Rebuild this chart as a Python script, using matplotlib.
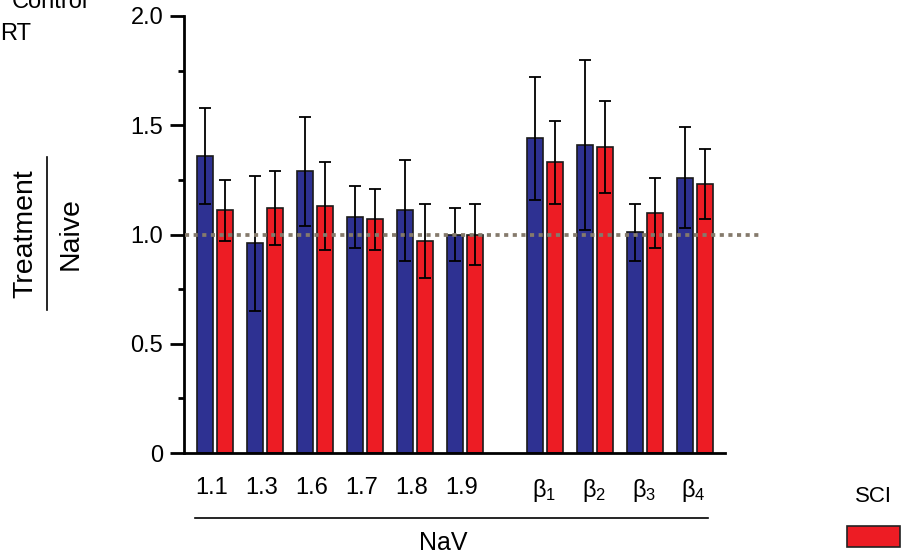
import numpy as np
import matplotlib.pyplot as plt
from matplotlib.ticker import MultipleLocator, FixedLocator

plt.rcParams['font.family'] = ['Liberation Sans', 'DejaVu Sans']

# данные
labels = ['1.1', '1.3', '1.6', '1.7', '1.8', '1.9',
          r'$\mathregular{\beta_1}$', r'$\mathregular{\beta_2}$',
          r'$\mathregular{\beta_3}$', r'$\mathregular{\beta_4}$']
control = [1.36, 0.96, 1.29, 1.08, 1.11, 1.00, 1.44, 1.41, 1.01, 1.26]
control_err = [0.22, 0.31, 0.25, 0.14, 0.23, 0.12, 0.28, 0.39, 0.13, 0.23]
sci = [1.11, 1.12, 1.13, 1.07, 0.97, 1.00, 1.33, 1.40, 1.10, 1.23]
sci_err = [0.14, 0.17, 0.20, 0.14, 0.17, 0.14, 0.19, 0.21, 0.16, 0.16]

blue = '#2E3192'
red = '#ED1C24'

# позиции групп: шесть NaV, затем разрыв и четыре бета-субъединицы
x = np.array([0, 1, 2, 3, 4, 5, 6.6, 7.6, 8.6, 9.6])
w = 0.32
off = 0.2

fig = plt.figure(figsize=(9.11, 5.57), dpi=100)
ax = fig.add_axes([184 / 911, 104 / 557, 541 / 911, 437 / 557])

bar_kw = dict(width=w, edgecolor='#1a1a1a', linewidth=1.2, zorder=2)
err_kw = dict(ecolor='black', elinewidth=1.3, capsize=4.5, capthick=1.3)
ax.bar(x - off, control, color=blue, yerr=control_err, error_kw=err_kw, **bar_kw)
ax.bar(x + off, sci, color=red, yerr=sci_err, error_kw=err_kw, **bar_kw)

# пунктирная линия на уровне 1.0
ax.plot([-0.6, 10.9], [1.0, 1.0], color='#857a6c', lw=2.7,
        dashes=(1.1, 1.2), clip_on=False, zorder=3)

ax.set_xlim(-0.614, 10.206)
ax.set_ylim(0, 2.0)

for s in ['top', 'right']:
    ax.spines[s].set_visible(False)
ax.spines['left'].set_linewidth(2)
ax.spines['bottom'].set_linewidth(2)

ax.yaxis.set_major_locator(FixedLocator([0, 0.5, 1.0, 1.5, 2.0]))
ax.set_yticklabels(['0', '0.5', '1.0', '1.5', '2.0'])
ax.yaxis.set_minor_locator(MultipleLocator(0.25))
ax.tick_params(axis='y', which='major', direction='out', length=10, width=2,
               labelsize=17, pad=5)
ax.tick_params(axis='y', which='minor', direction='out', length=4.5, width=2)

shift = np.array([0.06] * 6 + [0.02] * 4)
ax.set_xticks(x - shift)
ax.set_xticklabels(labels)
ax.tick_params(axis='x', length=0, labelsize=17, pad=17)

# подпись оси x с линией
fig.add_artist(plt.Line2D([195 / 911, 708 / 911], [1 - 518 / 557, 1 - 518 / 557],
                          color='black', lw=1.2))
fig.text(443 / 911, 1 - 543 / 557, 'NaV', ha='center', va='center', fontsize=18)

# подпись оси y в виде дроби
fig.text(25 / 911, 1 - 234 / 557, 'Treatment', rotation=90, ha='center',
         va='center', fontsize=20.5)
fig.text(71 / 911, 1 - 234 / 557, 'Naive', rotation=90, ha='center',
         va='center', fontsize=20.5)
fig.add_artist(plt.Line2D([47 / 911, 47 / 911], [1 - 157 / 557, 1 - 310 / 557],
                          color='black', lw=1.2))

# остатки легенды
fig.text(88 / 911, 1 - 8 / 557, 'Control', ha='right', va='baseline', fontsize=17)
fig.text(0, 1 - 40 / 557, 'RT', ha='left', va='baseline', fontsize=17)
fig.text(873 / 911, 1 - 497 / 557, 'SCI', ha='center', va='center', fontsize=16)
fig.add_artist(plt.Rectangle((847 / 911, 1 - 547 / 557), 53 / 911, 21 / 557,
                             facecolor=red, edgecolor='#222222', lw=1.2))

plt.savefig('out.png', dpi=100)
